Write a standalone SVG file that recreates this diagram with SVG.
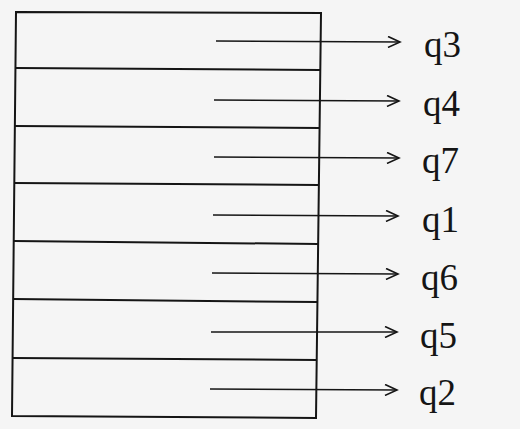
<svg xmlns="http://www.w3.org/2000/svg" width="520" height="429" viewBox="0 0 520 429">
<style>
.ln{stroke:#151515;stroke-width:2;fill:none}
.ar{stroke:#151515;stroke-width:1.6;fill:none}
.lb{font-family:"Liberation Serif","Times New Roman",serif;font-size:37px;fill:#151515}
</style>
<defs>
<marker id="ah" markerWidth="16" markerHeight="12" refX="14" refY="6" orient="auto" markerUnits="userSpaceOnUse">
<path d="M2,0.5 L14,6 L2,11.5" fill="none" stroke="#151515" stroke-width="1.6"/>
</marker>
</defs>
<rect width="520" height="429" fill="#f5f5f5"/>
<g id="table">
<polygon class="ln" points="16,12 321,13 316,418 12,416"/>
<line class="ln" x1="16" y1="68" x2="320" y2="70"/>
<line class="ln" x1="15" y1="126" x2="320" y2="128"/>
<line class="ln" x1="14" y1="183" x2="319" y2="185"/>
<line class="ln" x1="14" y1="241" x2="318" y2="244"/>
<line class="ln" x1="13" y1="299" x2="317" y2="302"/>
<line class="ln" x1="13" y1="358" x2="317" y2="360"/>
</g>
<g id="connectors">
<line class="ar" x1="216" y1="41" x2="400" y2="42" marker-end="url(#ah)"/>
<line class="ar" x1="214" y1="100" x2="399" y2="101" marker-end="url(#ah)"/>
<line class="ar" x1="214" y1="157" x2="399" y2="158" marker-end="url(#ah)"/>
<line class="ar" x1="213" y1="215" x2="398" y2="216" marker-end="url(#ah)"/>
<line class="ar" x1="212" y1="273" x2="398" y2="274" marker-end="url(#ah)"/>
<line class="ar" x1="211" y1="332" x2="397" y2="332" marker-end="url(#ah)"/>
<line class="ar" x1="210" y1="389" x2="397" y2="390" marker-end="url(#ah)"/>
</g>
<g id="q3"><text class="lb" x="424" y="57">q3</text></g>
<g id="q4"><text class="lb" x="423" y="116">q4</text></g>
<g id="q7"><text class="lb" x="422" y="173">q7</text></g>
<g id="q1"><text class="lb" x="422" y="232">q1</text></g>
<g id="q6"><text class="lb" x="421" y="290">q6</text></g>
<g id="q5"><text class="lb" x="420" y="348">q5</text></g>
<g id="q2"><text class="lb" x="419" y="405">q2</text></g>
</svg>
